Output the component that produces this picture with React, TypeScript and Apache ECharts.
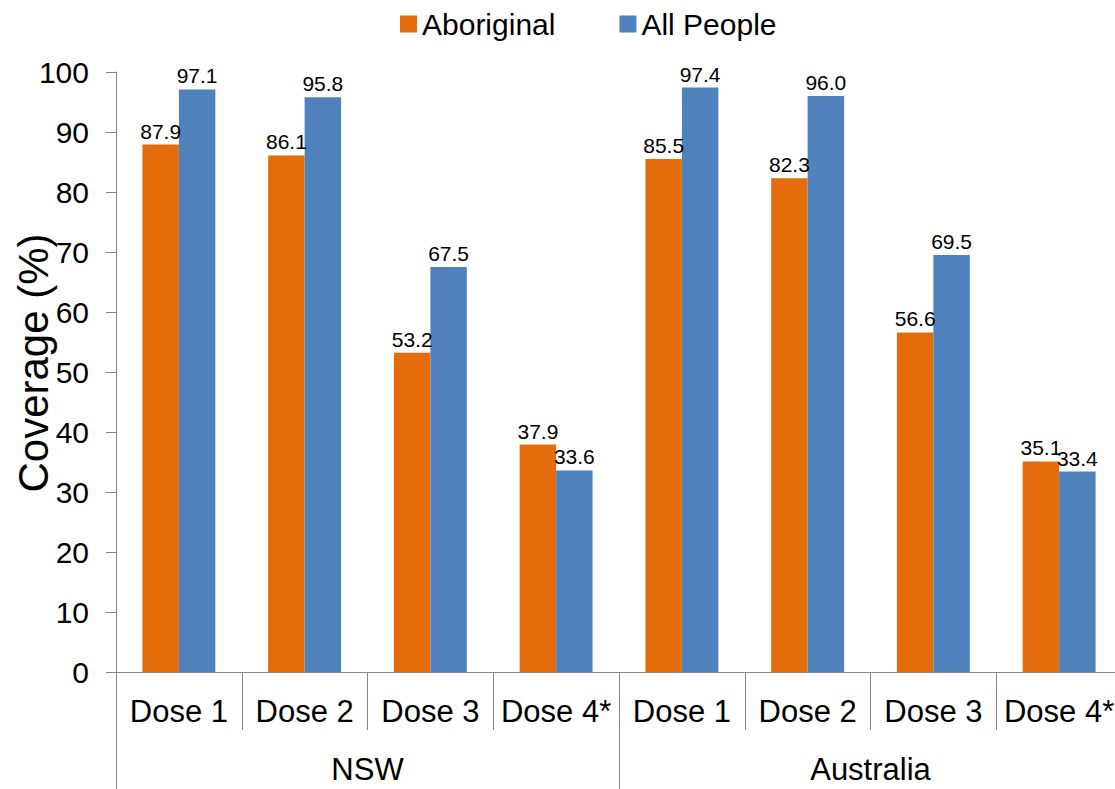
import React, { useEffect, useRef } from "react";
import * as echarts from "echarts";

// Vaccination coverage by dose, NSW vs Australia
const doses = ["Dose 1", "Dose 2", "Dose 3", "Dose 4*", "Dose 1", "Dose 2", "Dose 3", "Dose 4*"];
const regions = ["NSW", "Australia"];
const aboriginal = [87.9, 86.1, 53.2, 37.9, 85.5, 82.3, 56.6, 35.1];
const allPeople = [97.1, 95.8, 67.5, 33.6, 97.4, 96.0, 69.5, 33.4];
const seriesNames = ["Aboriginal", "All People"];

const FONT = "'Liberation Sans', Arial, sans-serif";
const AXIS_GREY = "#868686";

export default function App() {
  const ref = useRef<HTMLDivElement>(null);

  useEffect(() => {
    if (!ref.current) return;
    const chart = echarts.init(ref.current, undefined, { renderer: "svg" });

    const barLabel = {
      show: true,
      position: "top" as const,
      distance: 3,
      color: "#000",
      fontSize: 21,
      fontFamily: FONT,
      formatter: (p: any) => Number(p.value).toFixed(1),
    };

    chart.setOption({
      animation: false,
      backgroundColor: "#fff",
      textStyle: { fontFamily: FONT },
      legend: {
        data: seriesNames,
        left: 395,
        top: 4,
        itemWidth: 17,
        itemHeight: 17,
        itemGap: 64,
        icon: "rect",
        textStyle: { fontSize: 30, color: "#000", fontFamily: FONT },
      },
      grid: {
        left: 116,
        top: 72,
        width: 1006,
        height: 600,
        containLabel: false,
        outerBoundsMode: "none",
      },
      xAxis: [
        {
          type: "category",
          data: doses,
          position: "bottom",
          axisLine: { show: true, lineStyle: { color: AXIS_GREY, width: 1 } },
          axisTick: { show: true, length: 58, lineStyle: { color: AXIS_GREY } },
          axisLabel: { color: "#000", fontSize: 31, margin: 24, fontFamily: FONT, interval: 0 },
          splitLine: { show: false },
        },
        {
          type: "category",
          data: regions,
          position: "bottom",
          gridIndex: 0,
          axisLine: { show: false },
          axisTick: { show: true, length: 125, lineStyle: { color: AXIS_GREY } },
          axisLabel: { color: "#000", fontSize: 31, margin: 82, fontFamily: FONT, interval: 0 },
          splitLine: { show: false },
        },
      ],
      yAxis: {
        type: "value",
        min: 0,
        max: 100,
        interval: 10,
        name: "Coverage (%)",
        nameLocation: "middle",
        nameGap: 62,
        nameRotate: 90,
        nameMoveOverlap: false,
        nameTextStyle: { fontSize: 42, color: "#000", fontFamily: FONT, padding: [0, 0, 0, 18] },
        axisLine: { show: true, lineStyle: { color: AXIS_GREY, width: 1 } },
        axisTick: { show: true, length: 10, lineStyle: { color: AXIS_GREY } },
        axisLabel: { color: "#000", fontSize: 30, margin: 27, fontFamily: FONT },
        splitLine: { show: false },
      },
      series: [
        {
          name: seriesNames[0],
          type: "bar",
          xAxisIndex: 0,
          data: aboriginal,
          barGap: "0%",
          barCategoryGap: "42%",
          itemStyle: { color: "#E46C0A" },
          label: barLabel,
        },
        {
          name: seriesNames[1],
          type: "bar",
          xAxisIndex: 0,
          data: allPeople,
          barGap: "0%",
          barCategoryGap: "42%",
          itemStyle: { color: "#4F81BD" },
          label: barLabel,
        },
      ],
    });

    return () => chart.dispose();
  }, []);

  return (
    <div
      ref={ref}
      style={{ position: "absolute", left: 0, top: 0, width: 1115, height: 789, background: "#fff" }}
    />
  );
}
